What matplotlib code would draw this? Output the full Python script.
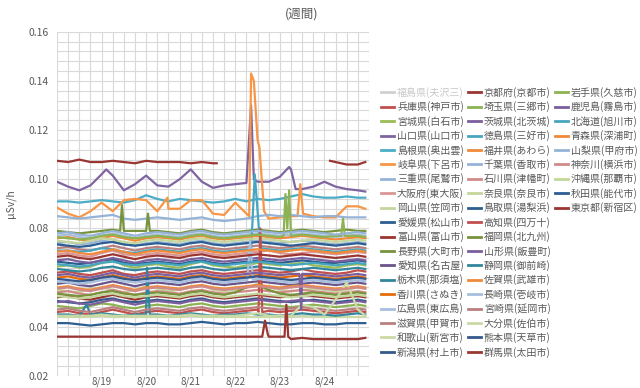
import matplotlib
matplotlib.use("Agg")
import matplotlib.pyplot as plt
from matplotlib.lines import Line2D
from matplotlib.ticker import MultipleLocator, FixedLocator
import numpy as np

# === Data (nSv/h, i.e. µSv/h x 1000) ===
nan = np.nan
hours = [0, 6, 12, 18, 24, 30, 36, 42, 48, 54, 60, 66, 72, 78, 84, 90, 96,
         102, 108, 114, 120, 126, 132, 138, 144, 150, 156, 162, 166]
day_labels = ["8/19", "8/20", "8/21", "8/22", "8/23", "8/24"]
day_hours = [24, 48, 72, 96, 120, 144]

hidden_label = "福島県(夫沢三)"

labels = [
    "兵庫県(神戸市)", "宮城県(白石市)", "山口県(山口市)", "島根県(奥出雲)", "岐阜県(下呂市)",
    "三重県(尾鷲市)", "大阪府(東大阪)", "岡山県(笠岡市)", "愛媛県(松山市)", "富山県(富山市)",
    "長野県(大町市)", "愛知県(名古屋)", "栃木県(那須塩)", "香川県(さぬき)", "広島県(東広島)",
    "滋賀県(甲賀市)", "和歌山(新宮市)", "新潟県(村上市)",
    "京都府(京都市)", "埼玉県(三郷市)", "茨城県(北茨城)", "徳島県(三好市)", "福井県(あわら)",
    "千葉県(香取市)", "石川県(津幡町)", "奈良県(奈良市)", "鳥取県(湯梨浜)", "高知県(四万十)",
    "福岡県(北九州)", "山形県(飯豊町)", "静岡県(御前崎)", "佐賀県(武雄市)", "長崎県(壱岐市)",
    "宮崎県(延岡市)", "大分県(佐伯市)", "熊本県(天草市)", "群馬県(太田市)",
    "岩手県(久慈市)", "鹿児島(霧島市)", "北海道(旭川市)", "青森県(深浦町)", "山梨県(甲府市)",
    "神奈川(横浜市)", "沖縄県(那覇市)", "秋田県(能代市)", "東京都(新宿区)",
]

values = [
    [62, 62.5, 61.5, 61, 62, 63, 61.5, 61, 62, 62.5, 62, 61.5, 62.5, 63, 62, 61.5, 62, 62.5, 63, 62.5, 62, 62.5, 63.5, 62.5, 62, 61.5, 62, 63, 62.5],
    [64.5, 65, 64, 64.5, 66, 67, 65, 64, 65, 65.5, 64.5, 64, 65.5, 66.5, 65, 64.5, 64, 65, 66, 65.5, 65, 65.5, 66, 65, 64.5, 64, 65, 65.5, 65],
    [99, 97, 95.5, 97.5, 102, 101.5, 95.5, 98, 101.5, 97.5, 97, 100, 104, 99, 96.5, 97.5, 98, 98.5, 99, 99, 101, 104, 96, 97, 99, 97, 96, 95.5, 95],
    [91, 91, 90.5, 91, 91.5, 91, 90.5, 91.5, 93.5, 92, 91, 92, 91.5, 91, 90.5, 91, 92, 91, 92, 91.5, 92, 93, 94, 93, 92.5, 92.5, 93, 92.5, 92.5],
    [88.5, 86, 84.5, 87, 90.5, 87, 91.5, 92, 91.5, 87, 88, 88, 91.5, 91.5, 86, 85.5, 90.5, 86, 116, 84, 84.5, 85, 90, 85, 84.5, 84.5, 89, 89, 88],
    [85, 84.5, 84, 84.5, 85, 85.5, 84, 83.5, 84, 84.5, 84, 83.5, 84, 84.5, 83.5, 83, 83.5, 84, 85, 85.5, 85, 85.5, 85, 84.5, 85, 85, 84.5, 84.5, 84.5],
    [69.5, 70, 69, 68.5, 70, 71, 69.5, 69, 69.5, 70, 69.5, 69, 70, 70.5, 69.5, 69, 69.5, 70, 70.5, 71, 70, 69.5, 70, 70.5, 70, 69.5, 70, 70.5, 70],
    [55, 54.5, 54, 55.5, 56, 55, 54, 55, 56.5, 55.5, 54.5, 55, 56, 57, 55, 54.5, 55, 56, 57.5, 56, 55, 54.5, 55, 55.5, 55, 54.5, 55, 56, 55.5],
    [66.5, 66, 65.5, 66, 67, 67.5, 66, 65.5, 66, 66.5, 66, 65.5, 66.5, 67, 66, 65.5, 66, 66.5, 67, 66.5, 66, 66.5, 67, 66.5, 66, 66, 66.5, 67, 66.5],
    [52, 52.5, 51.5, 51, 52, 53, 52, 51, 52, 52.5, 52, 51.5, 52.5, 53, 52, 51.5, 52, 52.5, 53, 52.5, 52, 52.5, 53, 52.5, 52, 51.5, 52, 52.5, 52],
    [79, 78.5, 78, 78.5, 79, 79.5, 79, 79, 79, 79, 78.5, 78, 79, 79.5, 78.5, 78, 78.5, 79, 79.5, 79, 78.5, 79, 79.5, 79, 78.5, 79, 79.5, 79, 79],
    [57.5, 58, 57, 56.5, 57.5, 58.5, 57.5, 56.5, 57.5, 58, 57.5, 57, 58, 58.5, 57.5, 57, 57.5, 58, 58.5, 58, 57.5, 57, 57.5, 58, 57.5, 57, 57.5, 58, 57.5],
    [63.5, 63, 62.5, 63, 64, 64.5, 63.5, 63, 63.5, 64, 63.5, 63, 64, 64.5, 63.5, 63, 63.5, 64, 64.5, 64, 63.5, 63, 63.5, 64, 63.5, 63, 63.5, 64, 63.5],
    [60, 60.5, 59.5, 59, 60, 61, 60, 59, 60, 60.5, 60, 59.5, 60.5, 61, 60, 59.5, 60, 60.5, 61, 60.5, 60, 60.5, 61, 60.5, 60, 59.5, 60, 60.5, 60],
    [77, 77.5, 76.5, 76, 77, 78, 77, 76, 77, 77.5, 77, 76.5, 77.5, 78, 77, 76.5, 77, 77.5, 78, 77.5, 77, 77.5, 78, 77.5, 77, 76.5, 77, 77.5, 77],
    [72, 72.5, 71.5, 71, 72, 73, 72, 71, 72, 72.5, 72, 71.5, 72.5, 73, 72, 71.5, 72, 72.5, 73, 72.5, 72, 72.5, 73, 72.5, 72, 71.5, 72, 72.5, 72],
    [44, 44, 44, 44, 44.5, 44, 44, 44, 44, 44, 44, 44, 44.5, 44, 44, 44, 44, 44, 44, 44, 44, 44, 44.5, 44, 44, 44, 44, 44, 44],
    [50.5, 50, 49.5, 50, 51, 51.5, 50.5, 50, 50.5, 51, 50.5, 50, 51, 51.5, 50.5, 50, 50.5, 51, 51.5, 51, 50.5, 50, 50.5, 51, 50.5, 50, 50.5, 51, 50.5],
    [107.5, 107, 108, 107, 107, 107.5, 107, 106.5, 107.5, 107, 107, 107, 106.5, 107, 106.5, nan, nan, nan, nan, nan, nan, nan, nan, nan, nan, 107, 106, 106, 107],
    [48.5, 48, 47.5, 48.5, 49.5, 49, 48, 47.5, 48.5, 49, 48.5, 48, 49, 49.5, 48.5, 48, 48.5, 49, 49.5, 49, 48.5, 48, 48.5, 49, 48.5, 48, 48.5, 49, 48.5],
    [67, 67.5, 66.5, 66, 67, 68, 67, 66, 67, 67.5, 67, 66.5, 67.5, 68, 67, 66.5, 67, 67.5, 68, 67.5, 67, 67.5, 68, 67.5, 67, 66.5, 67, 67.5, 67],
    [71, 71, 70.5, 71, 72, 71.5, 70.5, 70, 71, 71.5, 71, 70.5, 71.5, 72, 71, 70.5, 71, 71.5, 87, 71.5, 71, 71.5, 72, 71.5, 71, 70.5, 71, 71.5, 71],
    [76, 76.5, 75.5, 75, 76, 77, 76, 75, 76, 76.5, 76, 75.5, 76.5, 77, 76, 75.5, 76, 76.5, 77, 76.5, 76, 76.5, 77, 76.5, 76, 75.5, 76, 76.5, 76],
    [74, 74.5, 73.5, 74, 75, 74.5, 73.5, 73, 74, 74.5, 74, 73.5, 74.5, 75, 74, 73.5, 74, 74.5, 75, 74.5, 74, 74.5, 75, 74.5, 74, 73.5, 74, 74.5, 74],
    [54, 54.5, 53.5, 53, 54, 55, 54, 53, 54, 54.5, 54, 53.5, 54.5, 55, 54, 53.5, 54, 54.5, 55, 54.5, 54, 54.5, 55, 54.5, 54, 53.5, 54, 54.5, 54],
    [75, 74.5, 74, 75, 76, 75.5, 74.5, 74, 75, 75.5, 75, 74.5, 75.5, 76, 75, 74.5, 75, 75.5, 76, 75.5, 75, 74.5, 75, 75.5, 75, 74.5, 75, 75.5, 75],
    [73.5, 73, 72.5, 73, 74, 74.5, 73.5, 73, 73.5, 74, 73.5, 73, 74, 74.5, 73.5, 73, 73.5, 74, 74.5, 74, 73.5, 73, 73.5, 74, 73.5, 73, 73.5, 74, 73.5],
    [46, 46.5, 45.5, 45, 46, 47, 46, 45, 46, 46.5, 46, 45.5, 46.5, 47, 46, 45.5, 46, 46.5, 47, 46.5, 46, 46.5, 47, 46.5, 46, 45.5, 46, 46.5, 46],
    [53.5, 53, 52.5, 53, 54, 54.5, 53.5, 53, 53.5, 54, 53.5, 53, 54, 54.5, 53.5, 53, 54, 56, 57, 55, 53.5, 53, 53.5, 54, 53.5, 53, 53.5, 54, 53.5],
    [50, 50.5, 49.5, 49, 50, 51, 50, 49, 50, 50.5, 50, 49.5, 50.5, 51, 50, 49.5, 50, 50.5, 51, 50.5, 50, 50.5, 51, 50.5, 50, 49.5, 50, 50.5, 50],
    [45, 45, 44.5, 45, 45.5, 45, 44.5, 45, 45, 45, 44.5, 45, 45.5, 45, 44.5, 45, 45, 45.5, 45, 45, 44.5, 45, 45.5, 45, 45, 44.5, 45, 45.5, 45],
    [56, 56.5, 55.5, 55, 56, 57, 56, 55, 56, 56.5, 56, 55.5, 56.5, 57, 56, 55.5, 56, 56.5, 57, 56.5, 56, 56.5, 57, 56.5, 56, 55.5, 56, 56.5, 56],
    [58.5, 58, 57.5, 58, 59, 59.5, 58.5, 58, 58.5, 59, 58.5, 58, 59, 59.5, 58.5, 58, 58.5, 59, 59.5, 59, 58.5, 58, 58.5, 59, 58.5, 58, 58.5, 59, 58.5],
    [47, 47.5, 46.5, 46, 47, 48, 47, 46, 47, 47.5, 47, 46.5, 47.5, 48, 47, 46.5, 47, 47.5, 48, 47.5, 47, 47.5, 48, 47.5, 47, 46.5, 47, 47.5, 47],
    [44.5, 44.5, 44.5, 44.5, 45, 44.5, 44.5, 44.5, 44.5, 44.5, 44.5, 44.5, 45, 44.5, 44.5, 44.5, 44.5, 45, 45.5, 44.5, 44.5, 44.5, 49, 48, 45, 51, 58, 47, 44.5],
    [59.5, 59, 58.5, 59, 60, 60.5, 59.5, 59, 59.5, 60, 59.5, 59, 60, 60.5, 59.5, 59, 59.5, 60, 60.5, 60, 59.5, 59, 59.5, 60, 59.5, 59, 59.5, 60, 59.5],
    [68.5, 69, 68, 67.5, 68.5, 69.5, 68.5, 67.5, 68.5, 69, 68.5, 68, 69, 69.5, 68.5, 68, 68.5, 69, 69.5, 69, 68.5, 69, 69.5, 69, 68.5, 68, 68.5, 69, 68.5],
    [76.5, 76, 75.5, 76, 77, 77.5, 76.5, 76, 76.5, 77, 76.5, 76, 77, 77.5, 76.5, 76, 76.5, 77, 77.5, 77, 76.5, 77, 77.5, 77, 76.5, 77, 77, 77, 76.5],
    [61, 61.5, 60.5, 60, 61, 62, 61, 60, 61, 61.5, 61, 60.5, 61.5, 62, 61, 60.5, 61, 61.5, 62, 61.5, 61, 61.5, 61.5, 61.5, 61, 60.5, 61, 61.5, 61],
    [65.5, 65, 64.5, 65, 66, 66.5, 65.5, 65, 65.5, 66, 65.5, 65, 66, 66.5, 65.5, 65, 65.5, 66, 66.5, 66, 65.5, 65, 65.5, 66, 65.5, 65, 65.5, 66, 65.5],
    [70.5, 71, 70, 69.5, 70.5, 71.5, 70.5, 69.5, 70.5, 71, 70.5, 70, 71, 71.5, 70.5, 70, 70.5, 71, 71.5, 71, 70.5, 71, 71.5, 71, 70.5, 70, 70.5, 71, 70.5],
    [78, 78.5, 77.5, 77, 78, 79, 78, 77, 78, 78.5, 78, 77.5, 78.5, 79, 78, 77.5, 78, 78.5, 79, 78.5, 78, 78.5, 79, 78.5, 78, 77.5, 78, 78.5, 78],
    [55.5, 56, 55, 54.5, 55.5, 56.5, 55.5, 54.5, 55.5, 56, 55.5, 55, 56, 56.5, 55.5, 55, 55.5, 56, 56.5, 56, 55.5, 56, 56.5, 56, 55.5, 55, 55.5, 56, 55.5],
    [52.5, 52, 51.5, 52, 53, 53.5, 52.5, 52, 52.5, 53, 52.5, 52, 53, 53.5, 52.5, 52, 52.5, 53, 53.5, 53, 52.5, 52, 52.5, 53, 52.5, 52, 52.5, 53, 52.5],
    [41.5, 41.5, 41, 40.5, 41, 41.5, 41.5, 41, 41.5, 41.5, 41, 41, 41.5, 42, 41.5, 41, 41.5, 41.5, 42, 41.5, 41, 41, 41.5, 41.5, 41, 41, 41.5, 41.5, 41.5],
    [36, 36, 36, 36, 36, 36, 36, 36, 36, 36, 36, 36, 36, 36, 36, 36, 36, 36, 36, 36, 36, 35, 35.5, 35, 35, 35, 35, 35, 35.5],
]

# short spikes between the 6-hour points: (series, hour, value)
spikes = [
    ("山口県(山口市)", 26.5, 104), ("山口県(山口市)", 104.5, 130), ("山口県(山口市)", 106, 100),
    ("山口県(山口市)", 125, 105), ("山口県(山口市)", 128.5, 96),
    ("岐阜県(下呂市)", 59.5, 92.5), ("岐阜県(下呂市)", 103.5, 85), ("岐阜県(下呂市)", 104.5, 143),
    ("岐阜県(下呂市)", 106, 140), ("岐阜県(下呂市)", 109, 113), ("岐阜県(下呂市)", 111.5, 87),
    ("岐阜県(下呂市)", 129.5, 85), ("岐阜県(下呂市)", 131, 98), ("岐阜県(下呂市)", 132.5, 86),
    ("長野県(大町市)", 34, 79), ("長野県(大町市)", 35, 89.5), ("長野県(大町市)", 36.5, 79),
    ("長野県(大町市)", 49, 86), ("長野県(大町市)", 50, 79),
    ("京都府(京都市)", 86, 106.5), ("京都府(京都市)", 147, 107.5),
    ("徳島県(三好市)", 104.5, 71), ("徳島県(三好市)", 106.5, 102), ("徳島県(三好市)", 109.5, 72),
    ("高知県(四万十)", 108.5, 46), ("高知県(四万十)", 109.5, 80), ("高知県(四万十)", 110.5, 46),
    ("静岡県(御前崎)", 47, 45), ("静岡県(御前崎)", 48.5, 64), ("静岡県(御前崎)", 50, 45),
    ("静岡県(御前崎)", 16, 49),
    ("長崎県(壱岐市)", 102.5, 59), ("長崎県(壱岐市)", 104, 75), ("長崎県(壱岐市)", 105.5, 59),
    ("岩手県(久慈市)", 122, 77), ("岩手県(久慈市)", 123, 94), ("岩手県(久慈市)", 124, 80),
    ("岩手県(久慈市)", 125, 95.5), ("岩手県(久慈市)", 126.5, 77),
    ("岩手県(久慈市)", 153, 77), ("岩手県(久慈市)", 154, 84), ("岩手県(久慈市)", 155, 77),
    ("鹿児島(霧島市)", 130.5, 61.5), ("鹿児島(霧島市)", 131.5, 47),
    ("東京都(新宿区)", 110.5, 36), ("東京都(新宿区)", 112, 42.5), ("東京都(新宿区)", 113.5, 37),
    ("東京都(新宿区)", 122.5, 36), ("東京都(新宿区)", 123.5, 49), ("東京都(新宿区)", 124.5, 36),
]

# Excel 2007 style series colours, in legend order
colors = [
    "#C0504D", "#9BBB59", "#8064A2", "#4BACC6", "#F79646", "#95B3D7", "#D99694", "#C3D69B",
    "#2C5E91", "#9B3532", "#77933C", "#6A5489", "#31859C", "#E46C0A", "#A7BFDE", "#B9807F",
    "#C9DAA6", "#34598A",
    "#9B3532", "#8DB253", "#7A5E9E", "#45A6C1", "#F08A3A", "#95B3D7", "#D08A88", "#C3D69B",
    "#2C5E91", "#C0504D", "#77933C", "#7A5E9E", "#31859C", "#F08A3A", "#A7BFDE", "#B9807F",
    "#C9DAA6", "#34598A", "#9B3532",
    "#8DB253", "#7A5E9E", "#45A6C1", "#F08A3A", "#95B3D7", "#D08A88", "#C3D69B", "#2C5E91",
    "#9B3532",
]

plt.rcParams["font.family"] = ["Noto Sans CJK JP", "DejaVu Sans"]
text_gray = "#595959"
grid_gray = "#D9D9D9"

fig = plt.figure(figsize=(6.4, 3.88), dpi=100)
ax = fig.add_axes([57 / 640, 1 - 376 / 388, 312 / 640, 344.3 / 388])

for label, vals, col in zip(labels, values, colors):
    xs = list(hours)
    ys = list(vals)
    for name, h, v in spikes:
        if name == label:
            xs.append(h)
            ys.append(v)
    order = np.argsort(xs, kind="stable")
    xs = np.array(xs)[order]
    ys = np.array(ys, dtype=float)[order] / 1000
    ax.plot(xs, ys, color=col, lw=1.6, solid_joinstyle="round")

ax.set_xlim(0, 168)
ax.set_ylim(0.02, 0.16)
ax.xaxis.set_major_locator(FixedLocator(day_hours))
ax.set_xticklabels(day_labels)
ax.xaxis.set_minor_locator(MultipleLocator(6))
ax.yaxis.set_major_locator(MultipleLocator(0.02))
ax.yaxis.set_minor_locator(MultipleLocator(0.004))
ax.yaxis.set_major_formatter(matplotlib.ticker.FormatStrFormatter("%.2f"))
ax.grid(True, which="both", color=grid_gray, lw=0.8)
ax.set_axisbelow(True)
ax.tick_params(which="both", length=0, labelsize=7.5, labelcolor=text_gray)
ax.tick_params(axis="y", pad=6)
ax.tick_params(axis="x", labelsize=7, pad=0.5)
for s in ax.spines.values():
    s.set_visible(False)
ax.set_ylabel("µSv/h", fontsize=7.5, color=text_gray, labelpad=9)

fig.text(0.472, 0.963, "(週間)", fontsize=9, color=text_gray, ha="center", va="center")

# legend: 3 columns of 19 rows, column 3 padded with blank entries
handles = [Line2D([], [], color="#D0D0D0", lw=2)]
names = [hidden_label]
for label, col in zip(labels, colors):
    handles.append(Line2D([], [], color=col, lw=2))
    names.append(label)
for i in range(10):
    handles.append(Line2D([], [], color="none"))
    names.append("")
leg = fig.legend(handles, names, ncol=3, loc="upper left",
                 bbox_to_anchor=(381 / 640, 1 - 87 / 388), frameon=False,
                 fontsize=7.2, borderpad=0, borderaxespad=0, handlelength=1.3,
                 handletextpad=0.3, columnspacing=0.4, labelspacing=0.35)
for i, t in enumerate(leg.get_texts()):
    t.set_color("#C8C8C8" if i == 0 else text_gray)

fig.savefig("out.png", dpi=100, facecolor="white")
